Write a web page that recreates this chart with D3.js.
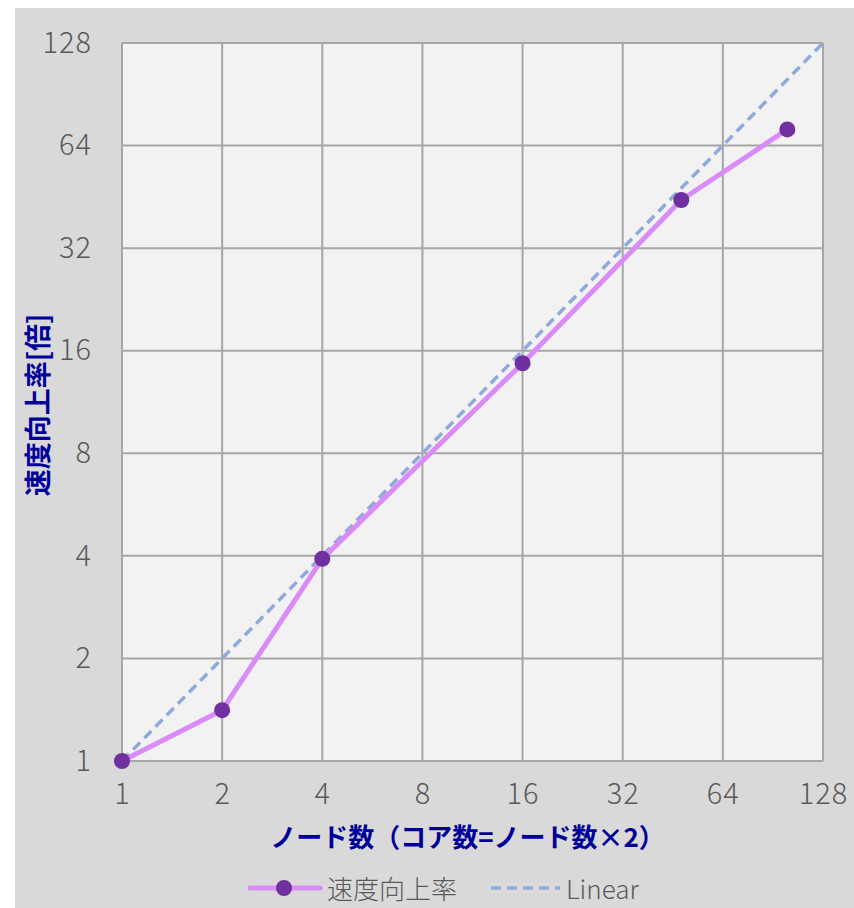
<!DOCTYPE html>
<html>
<head>
<meta charset="utf-8">
<script src="https://cdn.jsdelivr.net/npm/d3@7"></script>
<style>
html,body{margin:0;padding:0;background:#ffffff;}
svg{display:block;}
text{font-family:"Noto Sans CJK JP","Noto Sans",sans-serif;}
</style>
</head>
<body>
<script>
const nodes = [1, 2, 4, 16, 48, 100];
const speedup = [1, 1.41, 3.92, 14.7, 44.3, 71.4];
const linearX = [1, 128];
const linearY = [1, 128];
const tickValues = [1, 2, 4, 8, 16, 32, 64, 128];
const xTitle = "ノード数（コア数=ノード数×2）";
const yTitle = "速度向上率[倍]";
const legendLabels = ["速度向上率", "Linear"];

const W = 854, H = 908;
const svg = d3.select("body").append("svg").attr("width", W).attr("height", H);

svg.append("rect").attr("x", 15).attr("y", 8).attr("width", W - 15).attr("height", H - 8).attr("fill", "#d9d9d9");

const L = 122, R = 823, T = 43, B = 761;
const x = d3.scaleLog().base(2).domain([1, 128]).range([L, R]);
const y = d3.scaleLog().base(2).domain([1, 128]).range([B, T]);

svg.append("rect").attr("x", L).attr("y", T).attr("width", R - L).attr("height", B - T).attr("fill", "#f2f2f2");

const grid = svg.append("g");
grid.selectAll("line.v").data(tickValues).join("line")
  .attr("x1", d => x(d)).attr("x2", d => x(d)).attr("y1", T).attr("y2", B)
  .attr("stroke", "#a6a6a6").attr("stroke-width", 2);
grid.selectAll("line.h").data(tickValues).join("line").attr("class", "h")
  .attr("x1", L).attr("x2", R).attr("y1", d => y(d)).attr("y2", d => y(d))
  .attr("stroke", "#a6a6a6").attr("stroke-width", 2);

const tickFont = '"Noto Sans CJK JP","Noto Sans",sans-serif';
const xAxis = d3.axisBottom(x).tickValues(tickValues).tickFormat(d3.format("d")).tickSize(0).tickPadding(22);
const gx = svg.append("g").attr("transform", `translate(0,${B})`).call(xAxis);
gx.select(".domain").remove();
gx.selectAll("text").attr("font-size", 29).attr("letter-spacing", 1).attr("fill", "#595959").attr("font-family", tickFont).attr("font-weight", 300);

const yAxis = d3.axisLeft(y).tickValues(tickValues).tickFormat(d3.format("d")).tickSize(0).tickPadding(30);
const gy = svg.append("g").attr("transform", `translate(${L},0)`).call(yAxis);
gy.select(".domain").remove();
gy.selectAll("text").attr("font-size", 29).attr("letter-spacing", 1).attr("fill", "#595959").attr("font-family", tickFont).attr("font-weight", 300);

// linear dashed
const linData = linearX.map((v, i) => [v, linearY[i]]);
svg.append("path").datum(linData)
  .attr("d", d3.line().x(d => x(d[0])).y(d => y(d[1])))
  .attr("fill", "none").attr("stroke", "#8eaadb").attr("stroke-width", 3.5).attr("stroke-dasharray", "10,6");

// speedup line
const sp = nodes.map((v, i) => [v, speedup[i]]);
svg.append("path").datum(sp)
  .attr("d", d3.line().x(d => x(d[0])).y(d => y(d[1])))
  .attr("fill", "none").attr("stroke", "#d98cf7").attr("stroke-width", 5).attr("stroke-linejoin", "round");
svg.selectAll("circle.pt").data(sp).join("circle").attr("class", "pt")
  .attr("cx", d => x(d[0])).attr("cy", d => y(d[1])).attr("r", 8).attr("fill", "#7030a0");

// titles
svg.append("text").attr("x", (L + R) / 2 - 5).attr("y", 847).attr("text-anchor", "middle")
  .attr("font-size", 26).attr("font-weight", "bold").attr("fill", "#000099").text(xTitle);
svg.append("text").attr("transform", `translate(48,405) rotate(-90)`).attr("text-anchor", "middle")
  .attr("font-size", 27).attr("font-weight", "bold").attr("fill", "#000099").text(yTitle);

// legend
const lg = svg.append("g");
lg.append("line").attr("x1", 250).attr("x2", 320).attr("y1", 888).attr("y2", 888)
  .attr("stroke", "#d98cf7").attr("stroke-width", 5).attr("stroke-linecap", "round");
lg.append("circle").attr("cx", 284).attr("cy", 888).attr("r", 8).attr("fill", "#7030a0");
lg.append("text").attr("x", 327).attr("y", 899).attr("font-size", 26).attr("fill", "#595959").attr("font-weight", 300).text(legendLabels[0]);
lg.append("line").attr("x1", 491).attr("x2", 560).attr("y1", 888).attr("y2", 888)
  .attr("stroke", "#8eaadb").attr("stroke-width", 3.5).attr("stroke-dasharray", "10,6");
lg.append("text").attr("x", 566).attr("y", 899).attr("font-size", 26).attr("fill", "#595959").attr("font-weight", 300).text(legendLabels[1]);
</script>
</body>
</html>
